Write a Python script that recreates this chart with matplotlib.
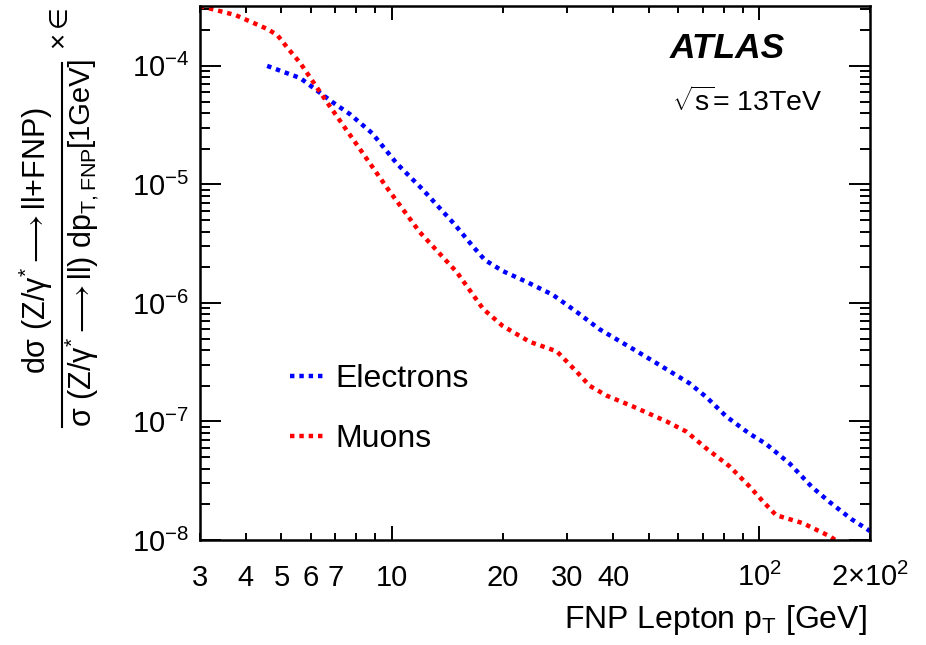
import matplotlib
matplotlib.use('Agg')
import matplotlib.pyplot as plt
from matplotlib.lines import Line2D
from matplotlib.ticker import FixedLocator, FixedFormatter

plt.rcParams['font.family'] = ['Liberation Sans', 'DejaVu Sans']
plt.rcParams['mathtext.fontset'] = 'custom'
plt.rcParams['mathtext.rm'] = 'Liberation Sans'
plt.rcParams['mathtext.it'] = 'Liberation Sans:italic'
plt.rcParams['mathtext.bf'] = 'Liberation Sans:bold'

# electrons
el_pt = [4.57, 5.62, 6.91, 7.69, 8.83, 10.3, 12.1, 14.8, 16.6, 17.9, 20.0, 23.3, 27.4,
         31.8, 36.7, 45.2, 52.5, 64.5, 71.8, 81.3, 93.9, 104, 121, 139, 155, 178, 200]
el_val = [1.0e-4, 7.9e-5, 4.9e-5, 3.9e-5, 2.7e-5, 1.5e-5, 9.1e-6, 4.6e-6, 3.0e-6, 2.3e-6,
          1.86e-6, 1.5e-6, 1.17e-6, 8.4e-7, 6.0e-7, 4.1e-7, 3.1e-7, 2.1e-7, 1.6e-7, 1.1e-7,
          7.9e-8, 6.5e-8, 4.4e-8, 2.8e-8, 2.1e-8, 1.5e-8, 1.19e-8]

# muons
mu_pt = [3.0, 3.75, 4.57, 4.87, 5.22, 5.62, 6.66, 8.19, 9.75, 11.9, 15.0, 17.7, 20.0, 23.7,
         28.1, 31.8, 34.5, 38.4, 45.2, 55.9, 63.3, 71.8, 82.8, 93.9, 102, 111, 131, 155, 161]
mu_val = [3.2e-4, 2.68e-4, 2.05e-4, 1.82e-4, 1.39e-4, 1.06e-4, 4.9e-5, 1.97e-5, 9.1e-6,
          3.95e-6, 1.82e-6, 8.9e-7, 6.4e-7, 4.7e-7, 3.9e-7, 2.63e-7, 2.0e-7, 1.65e-7,
          1.34e-7, 1.0e-7, 8.2e-8, 5.9e-8, 4.2e-8, 2.84e-8, 2.13e-8, 1.62e-8, 1.39e-8,
          1.08e-8, 1.0e-8]

x_major = [10, 100]
x_major_lab = ['10', r'$\mathregular{10^{2}}$']
x_minor = [3, 4, 5, 6, 7, 8, 9, 20, 30, 40, 50, 60, 70, 80, 90, 200]
x_minor_lab = ['3', '4', '5', '6', '7', '', '', '20', '30', '40', '', '', '', '', '',
               r'$\mathregular{2{\times}10^{2}}$']
y_major = [1e-8, 1e-7, 1e-6, 1e-5, 1e-4]
y_major_lab = [r'$\mathregular{10^{-8}}$', r'$\mathregular{10^{-7}}$', r'$\mathregular{10^{-6}}$',
               r'$\mathregular{10^{-5}}$', r'$\mathregular{10^{-4}}$']

W, H = 926, 645
def fx(px):
    return px / W
def fy(py):
    return 1 - py / H

fig = plt.figure(figsize=(9.26, 6.45), dpi=100)
ax = fig.add_axes([fx(200), fy(540), fx(870) - fx(200), fy(6) - fy(540)])

dots = (0, (1, 1.1))
ax.plot(el_pt, el_val, color=(0, 0, 1), lw=3.2, linestyle=dots, label='Electrons')
ax.plot(mu_pt, mu_val, color=(1, 0, 0), lw=3.2, linestyle=dots, label='Muons')

ax.set_xscale('log')
ax.set_yscale('log')
ax.set_xlim(3, 200)
ax.set_ylim(1e-8, 3.2e-4)

ax.xaxis.set_major_locator(FixedLocator(x_major))
ax.xaxis.set_major_formatter(FixedFormatter(x_major_lab))
ax.xaxis.set_minor_locator(FixedLocator(x_minor))
ax.xaxis.set_minor_formatter(FixedFormatter(x_minor_lab))

y_minor = [m * 10.0**e for e in range(-8, -3) for m in range(2, 10)]
y_minor = [v for v in y_minor if v < 3.2e-4]
ax.yaxis.set_major_locator(FixedLocator(y_major))
ax.yaxis.set_major_formatter(FixedFormatter(y_major_lab))
ax.yaxis.set_minor_locator(FixedLocator(y_minor))
ax.yaxis.set_minor_formatter(FixedFormatter([''] * len(y_minor)))

ax.tick_params(which='both', direction='in', top=True, right=True, width=1.4)
ax.tick_params(axis='x', which='major', length=10, labelsize=21, pad=33)
ax.tick_params(axis='x', which='minor', length=5, labelsize=21, pad=33)
ax.tick_params(axis='y', which='major', length=15, labelsize=21, pad=8)
ax.tick_params(axis='y', which='minor', length=7.5)
for lab in ax.get_xticklabels(which='both'):
    lab.set_va('baseline')
for sp in ax.spines.values():
    sp.set_linewidth(1.8)

leg = ax.legend(loc='center left', bbox_to_anchor=(0.092, 0.245), frameon=False,
                fontsize=23, handlelength=1.05, handletextpad=0.35, labelspacing=0.95)

ax.text(0.873, 0.92, 'ATLAS', transform=ax.transAxes, ha='right', va='center',
        fontsize=25.5, fontweight='bold', fontstyle='italic')
ax.text(0.705, 0.82, r'$\mathregular{\sqrt{s}}$= 13TeV', transform=ax.transAxes,
        ha='left', va='center', fontsize=20.5)

fig.text(fx(867), fy(628), r'FNP Lepton p$_{\mathregular{T}}$ [GeV]', ha='right',
         va='baseline', fontsize=23)

# y-axis title drawn as a fraction
fig.text(fx(36), fy(240),
         r'$\mathregular{d\sigma\ (Z/\gamma^{*}{\longrightarrow}ll{+}FNP)}$',
         rotation=90, ha='center', va='center', fontsize=22)
fig.text(fx(82), fy(287),
         r'$\mathregular{\sigma\ (Z/\gamma^{*}{\longrightarrow}ll)\ dp_{T,FNP}}$',
         rotation=90, ha='center', va='center', fontsize=22)
fig.text(fx(80), fy(101), '[1GeV]', rotation=90, ha='center', va='center', fontsize=21)
fig.text(fx(59), fy(42), r'$\times$', rotation=90, ha='center', va='center', fontsize=20)
fig.text(fx(59), fy(16), '\u2208', rotation=90, ha='center', va='center', fontsize=18)
fig.add_artist(Line2D([fx(62), fx(62)], [fy(63), fy(427)], transform=fig.transFigure,
                      color='k', lw=1.5))

fig.savefig('out.png', dpi=100)
